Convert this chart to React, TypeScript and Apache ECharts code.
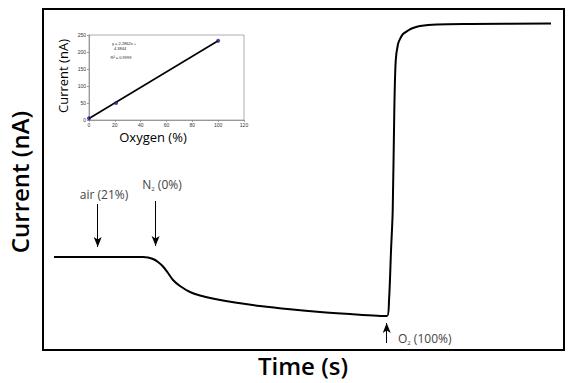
import React, { useEffect, useRef } from "react";
import * as echarts from "echarts";

// Main trace (time in arbitrary units, current in arbitrary units)
const timeS = [11, 60, 100, 105, 110, 115, 120, 125, 130, 137, 147, 157, 172, 192, 217, 247, 277, 307, 344, 346, 348, 349.7, 351.3, 352.7, 355, 357.5, 360, 365, 370, 377, 394, 427, 508];
const currentMain = [93, 93, 93, 92.5, 91, 88, 83.5, 77, 70, 64, 58, 54.5, 51, 47.5, 44, 40.7, 38, 36, 34, 49, 99, 139, 239, 289, 306, 312, 316, 319.5, 322, 324, 325.5, 326, 326.5];

// Inset calibration
const oxygenPct = [0, 21, 100];
const oxygenCurrent = [5, 50, 233];
const fitX = [0, 100];
const fitSlope = 2.2862;
const fitIntercept = 4.3844;

// Annotation arrows [time, fromValue, toValue]
const arrowAir = [54.7, 146, 103];
const arrowN2 = [112.6, 149, 104];
const arrowO2 = [343.7, 7, 27];

const FONT = "'Open Sans', 'DejaVu Sans', sans-serif";
const SMALL = "'Liberation Sans', Arial, sans-serif";

export default function App() {
  const ref = useRef<HTMLDivElement>(null);
  useEffect(() => {
    if (!ref.current) return;
    const chart = echarts.init(ref.current, undefined, { renderer: "svg" });
    const arrow = (a: number[]) => [
      { coord: [a[0], a[1]] },
      { coord: [a[0], a[2]] },
    ];
    const labelSmall = { fontSize: 5, color: "#333", fontFamily: SMALL };
    chart.setOption({
      animation: false,
      backgroundColor: "#fff",
      grid: [
        { left: 43, top: 9, width: 521, height: 341, show: true, borderColor: "#000", borderWidth: 2, backgroundColor: "transparent" },
        { left: 89, top: 35, width: 155, height: 85, show: true, borderColor: "#999", borderWidth: 0.8, backgroundColor: "#fff" },
      ],
      xAxis: [
        { gridIndex: 0, type: "value", min: 0, max: 521, show: false },
        {
          gridIndex: 1, type: "value", min: 0, max: 120, interval: 20,
          axisLine: { show: true, onZero: false, lineStyle: { color: "#888", width: 0.8 } },
          axisTick: { show: true, length: 2, lineStyle: { color: "#888", width: 0.8 } },
          splitLine: { show: false },
          axisLabel: { ...labelSmall, margin: 2.5 },
        },
      ],
      yAxis: [
        { gridIndex: 0, type: "value", min: 0, max: 341, show: false },
        {
          gridIndex: 1, type: "value", min: 0, max: 250, interval: 50,
          axisLine: { show: true, lineStyle: { color: "#888", width: 0.8 } },
          axisTick: { show: true, length: 2, lineStyle: { color: "#888", width: 0.8 } },
          splitLine: { show: false },
          axisLabel: { ...labelSmall, margin: 3 },
        },
      ],
      series: [
        {
          type: "line",
          xAxisIndex: 0,
          yAxisIndex: 0,
          data: timeS.map((t, i) => [t, currentMain[i]]),
          showSymbol: false,
          smooth: 0.3,
          lineStyle: { color: "#000", width: 2 },
          z: 3,
          markLine: {
            silent: true,
            symbol: ["none", "arrow"],
            symbolSize: [6, 10],
            lineStyle: { color: "#000", width: 1, type: "solid" },
            label: { show: false },
            data: [arrow(arrowAir), arrow(arrowN2), arrow(arrowO2)],
          },
        },
        {
          type: "line",
          xAxisIndex: 1,
          yAxisIndex: 1,
          data: fitX.map((x) => [x, fitSlope * x + fitIntercept]),
          showSymbol: false,
          lineStyle: { color: "#000", width: 1.6 },
          z: 4,
        },
        {
          type: "scatter",
          xAxisIndex: 1,
          yAxisIndex: 1,
          data: oxygenPct.map((x, i) => [x, oxygenCurrent[i]]),
          symbolSize: 4,
          itemStyle: { color: "#1a237e" },
          z: 5,
        },
      ],
      graphic: [
        {
          type: "text", x: 19, y: 182, rotation: Math.PI / 2,
          style: { text: "Current (nA)", fontSize: 24, fontWeight: 600, fontFamily: FONT, fill: "#000", align: "center", verticalAlign: "middle" },
        },
        {
          type: "text", x: 303, y: 365,
          style: { text: "Time (s)", fontSize: 24, fontWeight: 600, fontFamily: FONT, fill: "#000", align: "center", verticalAlign: "middle" },
        },
        {
          type: "text", x: 63, y: 76, rotation: Math.PI / 2,
          style: { text: "Current (nA)", fontSize: 13, fontFamily: FONT, fill: "#000", align: "center", verticalAlign: "middle" },
        },
        {
          type: "text", x: 153, y: 137,
          style: { text: "Oxygen (%)", fontSize: 13, fontFamily: FONT, fill: "#000", align: "center", verticalAlign: "middle" },
        },
        {
          type: "text", x: 124, y: 43.5,
          style: { text: "y = 2.2862x +", fontSize: 4, fontFamily: SMALL, fill: "#222", align: "center", verticalAlign: "middle" },
        },
        {
          type: "text", x: 120, y: 48,
          style: { text: "4.3844", fontSize: 4, fontFamily: SMALL, fill: "#222", align: "center", verticalAlign: "middle" },
        },
        {
          type: "text", x: 121, y: 57.5,
          style: { text: "R² = 0.9999", fontSize: 4, fontFamily: SMALL, fill: "#222", align: "center", verticalAlign: "middle" },
        },
        {
          type: "text", x: 104, y: 194,
          style: { text: "air (21%)", fontSize: 12, fontFamily: FONT, fill: "#444", align: "center", verticalAlign: "middle" },
        },
        {
          type: "text", x: 162, y: 184,
          style: {
            text: "{a|N}{s|2}{a| (0%)}", align: "center", verticalAlign: "middle",
            rich: {
              a: { fontSize: 12, fontFamily: FONT, fill: "#444", lineHeight: 16 },
              s: { fontSize: 6, fontFamily: FONT, fill: "#444", verticalAlign: "bottom", lineHeight: 16 },
            },
          },
        },
        {
          type: "text", x: 398, y: 338,
          style: {
            text: "{a|O}{s|2}{a| (100%)}", align: "left", verticalAlign: "middle",
            rich: {
              a: { fontSize: 12, fontFamily: FONT, fill: "#444", lineHeight: 16 },
              s: { fontSize: 6, fontFamily: FONT, fill: "#444", verticalAlign: "bottom", lineHeight: 16 },
            },
          },
        },
      ],
    });
    return () => chart.dispose();
  }, []);
  return <div ref={ref} style={{ width: 577, height: 383, position: "absolute", left: 0, top: 0 }} />;
}
